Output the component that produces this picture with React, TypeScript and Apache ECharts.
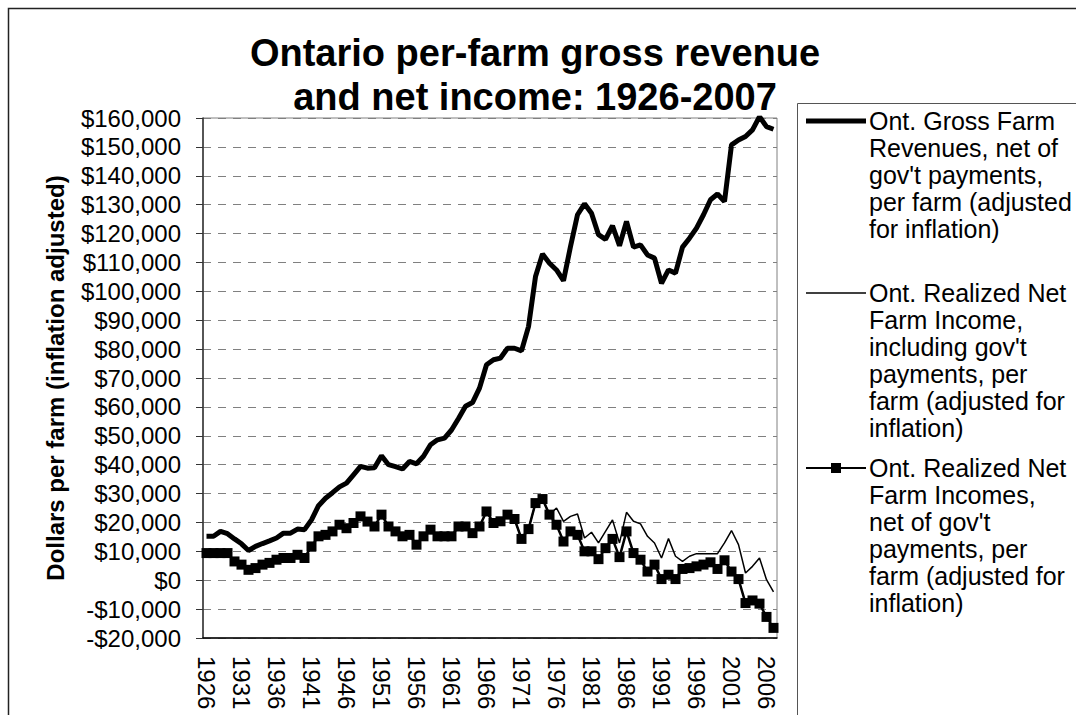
import React, { useEffect, useRef } from "react";
import * as echarts from "echarts";

const years: string[] = [];
for (let y = 1926; y <= 2007; y++) years.push(String(y));

const grossRevenue = [
  15200, 15200, 16900, 16100, 14300, 12600, 10300, 11700, 12700, 13600,
  14600, 16300, 16300, 17700, 17500, 20900, 25800, 28400, 30300, 32300,
  33600, 36500, 39400, 38800, 38900, 43100, 40000, 39300, 38500, 41100,
  40300, 42900, 46900, 48600, 49200, 52000, 56000, 60200, 61500, 66500,
  74600, 76300, 76900, 80300, 80300, 79400, 87800, 105100, 112900, 109700,
  107400, 103700, 115500, 126500, 130300, 127000, 119600, 118000, 122700, 115800,
  124200, 115300, 116100, 112600, 111500, 102800, 107400, 106300, 115300, 118400,
  121900, 126500, 131700, 133700, 131100, 150700, 152400, 153600, 155900, 160500,
  157000, 156100,
];

const netInclGov = [
  9400, 9400, 9400, 9400, 6500, 5400, 3600, 4200, 5400, 6000,
  7100, 7700, 7700, 8800, 7700, 11700, 15200, 15700, 16900, 19200,
  18000, 19800, 22100, 20300, 18600, 22700, 18600, 16900, 15200, 15700,
  12300, 15200, 17500, 15200, 15200, 15200, 18600, 18600, 16300, 18600,
  23800, 19800, 20400, 22700, 21200, 14300, 17700, 26700, 28100, 22700,
  25000, 20400, 22100, 22900, 14600, 16600, 12900, 16900, 20900, 12900,
  23500, 20400, 19500, 15200, 12900, 7700, 14400, 8300, 6500, 8300,
  9200, 9200, 9200, 9200, 12900, 17200, 12300, 2500, 4800, 7700,
  200, -4000,
];

const netExclGov = [
  9400, 9400, 9400, 9400, 6500, 5400, 3600, 4200, 5400, 6000,
  7100, 7700, 7700, 8800, 7700, 11700, 15200, 15700, 16900, 19200,
  18000, 19800, 22100, 20300, 18600, 22700, 18600, 16900, 15200, 15700,
  12300, 15200, 17500, 15200, 15200, 15200, 18600, 18600, 16300, 18600,
  23800, 19800, 20400, 22700, 21200, 14300, 17700, 26700, 28100, 22700,
  19200, 13400, 16900, 15700, 10000, 10000, 7300, 11100, 14300, 8000,
  16900, 9400, 7100, 3000, 5400, 400, 1900, 400, 3900, 4200,
  4800, 5400, 6200, 3900, 6900, 3000, 400, -7900, -7000, -8100,
  -12700, -16500,
];

const titleLines = ["Ontario per-farm gross revenue", "and net income: 1926-2007"];
const yAxisTitle = "Dollars per farm (inflation adjusted)";
const legendEntries = [
  ["Ont. Gross Farm", "Revenues, net of", "gov't payments,", "per farm (adjusted", "for inflation)"],
  ["Ont. Realized Net", "Farm Income,", "including gov't", "payments, per", "farm (adjusted for", "inflation)"],
  ["Ont. Realized Net", "Farm Incomes,", "net of gov't", "payments, per", "farm (adjusted for", "inflation)"],
];

const FONT = '"Liberation Sans", Arial, Helvetica, sans-serif';

const fmtMoney = (v: number) =>
  (v < 0 ? "-$" : "$") + Math.abs(v).toLocaleString("en-US");

export default function App() {
  const ref = useRef<HTMLDivElement>(null);

  useEffect(() => {
    if (!ref.current) return;
    const chart = echarts.init(ref.current, undefined, { renderer: "svg" });

    const legendText = (text: string, y: number) => ({
      type: "text",
      x: 869,
      y,
      style: {
        text,
        font: `25px ${FONT}`,
        fill: "#000",
        lineHeight: 27,
        align: "left",
        verticalAlign: "top",
        textAlign: "left",
        textVerticalAlign: "top",
      },
    });

    const titleText = (text: string, y: number) => ({
      type: "text",
      x: 535,
      y,
      style: {
        text,
        font: `bold 38px ${FONT}`,
        fill: "#000",
        align: "center",
        verticalAlign: "middle",
        textAlign: "center",
        textVerticalAlign: "middle",
      },
    });

    const option: any = {
      animation: false,
      backgroundColor: "#fff",
      grid: {
        left: 203,
        top: 118,
        width: 574,
        height: 520,
        show: true,
        borderColor: "#808080",
        borderWidth: 1,
        backgroundColor: "transparent",
      },
      xAxis: {
        type: "category",
        data: years,
        boundaryGap: true,
        axisLine: { onZero: false, lineStyle: { color: "#000", width: 1.5 } },
        axisTick: { interval: 0, length: 6, lineStyle: { color: "#000" } },
        axisLabel: {
          interval: 4,
          rotate: -90,
          fontSize: 24,
          fontFamily: FONT,
          color: "#000",
          margin: 18,
        },
        splitLine: { show: false },
      },
      yAxis: {
        type: "value",
        min: -20000,
        max: 160000,
        interval: 10000,
        axisLine: { show: true, lineStyle: { color: "#333", width: 1.5 } },
        axisTick: { show: true, length: 7, lineStyle: { color: "#333" } },
        axisLabel: {
          formatter: fmtMoney,
          fontSize: 24,
          fontFamily: FONT,
          color: "#000",
          margin: 22,
        },
        splitLine: {
          show: true,
          lineStyle: { color: "#808080", type: [8, 7], width: 1 },
        },
      },
      series: [
        {
          name: "Ont. Gross Farm Revenues",
          type: "line",
          data: grossRevenue,
          symbol: "none",
          lineStyle: { color: "#000", width: 5 },
          itemStyle: { color: "#000" },
        },
        {
          name: "Ont. Realized Net Farm Income incl gov't",
          type: "line",
          data: netInclGov,
          symbol: "none",
          lineStyle: { color: "#000", width: 1.5 },
          itemStyle: { color: "#000" },
        },
        {
          name: "Ont. Realized Net Farm Incomes net of gov't",
          type: "line",
          data: netExclGov,
          symbol: "rect",
          symbolSize: 10,
          showSymbol: true,
          showAllSymbol: true,
          lineStyle: { color: "#000", width: 2.5 },
          itemStyle: { color: "#000" },
        },
      ],
      graphic: [
        {
          type: "rect",
          shape: { x: 8.5, y: 8.5, width: 1200, height: 1000 },
          style: { fill: "none", stroke: "#222", lineWidth: 1.5 },
          silent: true,
        },
        {
          type: "rect",
          shape: { x: 797.5, y: 103.5, width: 400, height: 700 },
          style: { fill: "#fff", stroke: "#555", lineWidth: 1 },
          silent: true,
        },
        titleText(titleLines[0], 53),
        titleText(titleLines[1], 97),
        {
          type: "text",
          x: 55,
          y: 378,
          rotation: Math.PI / 2,
          style: {
            text: yAxisTitle,
            font: `bold 24px ${FONT}`,
            fill: "#000",
            align: "center",
            verticalAlign: "middle",
            textAlign: "center",
            textVerticalAlign: "middle",
          },
        },
        {
          type: "line",
          shape: { x1: 806, y1: 121, x2: 866, y2: 121 },
          style: { stroke: "#000", lineWidth: 5 },
        },
        {
          type: "line",
          shape: { x1: 806, y1: 293, x2: 866, y2: 293 },
          style: { stroke: "#000", lineWidth: 1.5 },
        },
        {
          type: "line",
          shape: { x1: 806, y1: 468, x2: 866, y2: 468 },
          style: { stroke: "#000", lineWidth: 2 },
        },
        {
          type: "rect",
          shape: { x: 831, y: 463, width: 10, height: 10 },
          style: { fill: "#000" },
        },
        legendText(legendEntries[0].join("\n"), 107.5),
        legendText(legendEntries[1].join("\n"), 279.5),
        legendText(legendEntries[2].join("\n"), 454.5),
      ],
    };

    chart.setOption(option);
    return () => chart.dispose();
  }, []);

  return (
    <div
      ref={ref}
      style={{
        position: "fixed",
        left: 0,
        top: 0,
        width: 1076,
        height: 715,
        background: "#fff",
      }}
    />
  );
}
